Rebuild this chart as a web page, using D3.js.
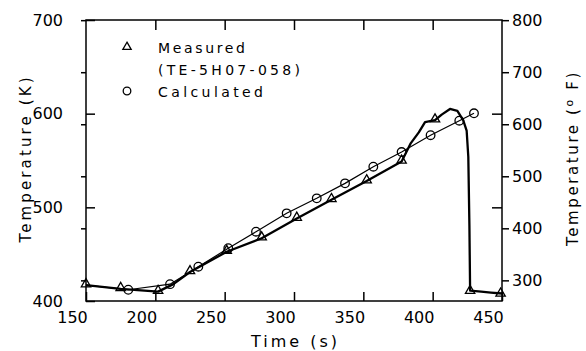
<!DOCTYPE html>
<html lang="en">
<head>
<meta charset="utf-8">
<title>Temperature vs time</title>
<script src="https://cdn.jsdelivr.net/npm/d3@7"></script>
<style>
  body { margin: 0; background: #fff; }
  text { font-family: "DejaVu Sans", sans-serif; fill: #000; }
</style>
</head>
<body>
<script>
// measured trace (TE-5H07-058)
var measTime = [150, 175, 202, 213, 225, 251.5, 276.7, 302, 327, 352.4, 377.6, 384, 390, 394.5, 401.7, 406.5, 412.5, 417.8, 422, 424.5, 425.7, 426.5, 427, 435, 442, 450];
var measTemp = [417, 413, 410, 418, 431, 452.6, 467, 488, 508, 528, 549, 568, 580, 591, 593, 599, 605, 603, 593, 582, 554, 480, 411, 410, 409, 408];

// measured symbols (triangles)
var triTime = [150, 175, 202, 225, 251.5, 276.7, 302, 327, 352.4, 377.6, 401.7, 427, 449];
var triTemp = [417, 413, 410, 431, 452.6, 467, 488, 508, 528, 549, 593, 410, 407];

// calculated
var calcTime = [150, 180.5, 210.6, 231, 252.6, 272.6, 294.7, 316.4, 336.8, 357.2, 377.6, 398.5, 419.2, 429.8];
var calcTemp = [417, 412, 418, 436.6, 456.3, 474, 493.6, 509.6, 525.6, 543.4, 559, 577, 592.5, 600.4];

var xTicks = [150, 200, 250, 300, 350, 400, 450];
var kTicks = [400, 500, 600, 700];
var fTicks = [300, 400, 500, 600, 700, 800];

var width = 586, height = 351;
var svg = d3.select("body").append("svg")
    .attr("width", width)
    .attr("height", height);

var x = d3.scaleLinear().domain([150, 450]).range([86, 502]);
var yK = d3.scaleLinear().domain([400, 700]).range([301, 20]);
function toF(k) { return k * 1.8 - 459.67; }
var yF = d3.scaleLinear().domain([toF(400), toF(700)]).range([301, 20]);

// frame
svg.append("rect")
    .attr("x", x(150)).attr("y", yK(700))
    .attr("width", x(450) - x(150)).attr("height", yK(400) - yK(700))
    .attr("fill", "none").attr("stroke", "#000").attr("stroke-width", 1.5);

// bottom axis: inward ticks, labels sit a bit left of ticks like the scan
var xBottom = svg.append("g")
    .attr("transform", "translate(0," + yK(400) + ")")
    .call(d3.axisBottom(x).tickValues(xTicks).tickSizeInner(-9).tickSizeOuter(0).tickPadding(20));
xBottom.select(".domain").remove();
xBottom.selectAll("text").attr("font-size", 16).attr("dx", -14).attr("dy", "0.1em")
    .style("font-family", "DejaVu Sans");
xBottom.selectAll("line").attr("stroke-width", 1.5);

var xTop = svg.append("g")
    .attr("transform", "translate(0," + yK(700) + ")")
    .call(d3.axisTop(x).tickValues(xTicks.slice(1, -1)).tickSizeInner(-10).tickSizeOuter(0).tickFormat(""));
xTop.select(".domain").remove();
xTop.selectAll("line").attr("stroke-width", 1.5);

// left axis: K labels, inward ticks at K, small outward ticks at degF spots
var yLeft = svg.append("g")
    .attr("transform", "translate(" + x(150) + ",0)")
    .call(d3.axisLeft(yK).tickValues(kTicks).tickSizeInner(-9).tickSizeOuter(0).tickPadding(23));
yLeft.select(".domain").remove();
yLeft.selectAll("text").attr("font-size", 16).style("font-family", "DejaVu Sans");
yLeft.selectAll("line").attr("stroke-width", 1.5);
svg.append("g")
    .attr("transform", "translate(" + x(150) + ",0)")
    .call(d3.axisLeft(yF).tickValues(fTicks).tickSizeInner(5).tickSizeOuter(0).tickFormat(""))
    .call(g => g.select(".domain").remove())
    .selectAll("line").attr("stroke-width", 1.5);

// right axis: degF labels with outward ticks, inward ticks at K
var yRight = svg.append("g")
    .attr("transform", "translate(" + x(450) + ",0)")
    .call(d3.axisRight(yF).tickValues(fTicks).tickSizeInner(7).tickSizeOuter(0).tickPadding(3));
yRight.select(".domain").remove();
yRight.selectAll("text").attr("font-size", 16).style("font-family", "DejaVu Sans");
yRight.selectAll("line").attr("stroke-width", 1.5);
svg.append("g")
    .attr("transform", "translate(" + x(450) + ",0)")
    .call(d3.axisRight(yK).tickValues([500, 600]).tickSizeInner(-10).tickSizeOuter(0).tickFormat(""))
    .call(g => g.select(".domain").remove())
    .selectAll("line").attr("stroke-width", 1.5);

// axis titles
svg.append("text")
    .attr("x", 294).attr("y", 347)
    .attr("text-anchor", "middle")
    .attr("font-size", 16)
    .attr("textLength", 86).attr("lengthAdjust", "spacing")
    .text("Time (s)");

svg.append("text")
    .attr("transform", "translate(31,160) rotate(-90)")
    .attr("text-anchor", "middle")
    .attr("font-size", 15)
    .attr("textLength", 165).attr("lengthAdjust", "spacing")
    .text("Temperature (K)");

var rt = svg.append("text")
    .attr("transform", "translate(578,158) rotate(-90)")
    .attr("text-anchor", "middle")
    .attr("font-size", 15)
    .attr("letter-spacing", 2.6);
rt.append("tspan").text("Temperature  (");
rt.append("tspan").attr("dy", -5).attr("font-size", 11).text("o");
rt.append("tspan").attr("dy", 5).text(" F)");

// lines
var measData = measTime.map((t, i) => [t, measTemp[i]]);
var calcData = calcTime.map((t, i) => [t, calcTemp[i]]);
var line = d3.line().x(d => x(d[0])).y(d => yK(d[1]));

svg.append("path").datum(calcData)
    .attr("d", line)
    .attr("fill", "none").attr("stroke", "#000").attr("stroke-width", 1.2);

svg.append("path").datum(measData)
    .attr("d", line)
    .attr("fill", "none").attr("stroke", "#000").attr("stroke-width", 2.3)
    .attr("stroke-linejoin", "round");

// symbols
var tri = d3.symbol().type(d3.symbolTriangle).size(38);
svg.append("g").selectAll("path")
    .data(triTime.map((t, i) => [t, triTemp[i]]))
    .enter().append("path")
    .attr("d", tri)
    .attr("transform", d => "translate(" + x(d[0]) + "," + (yK(d[1]) - 1) + ")")
    .attr("fill", "none").attr("stroke", "#000").attr("stroke-width", 1.3);

svg.append("g").selectAll("circle")
    .data(calcData.slice(1))
    .enter().append("circle")
    .attr("cx", d => x(d[0]))
    .attr("cy", d => yK(d[1]))
    .attr("r", 4.3)
    .attr("fill", "none").attr("stroke", "#000").attr("stroke-width", 1.3);

// legend
svg.append("path")
    .attr("d", d3.symbol().type(d3.symbolTriangle).size(30))
    .attr("transform", "translate(127,47)")
    .attr("fill", "none").attr("stroke", "#000").attr("stroke-width", 1.3);
svg.append("circle")
    .attr("cx", 127).attr("cy", 91).attr("r", 3.8)
    .attr("fill", "none").attr("stroke", "#000").attr("stroke-width", 1.3);

var legendText = [["Measured", 53, 87], ["(TE-5H07-058)", 75, 142], ["Calculated", 97, 105]];
svg.append("g").selectAll("text")
    .data(legendText)
    .enter().append("text")
    .attr("x", 158).attr("y", d => d[1])
    .attr("font-size", 14)
    .attr("textLength", d => d[2]).attr("lengthAdjust", "spacing")
    .text(d => d[0]);
</script>
</body>
</html>
